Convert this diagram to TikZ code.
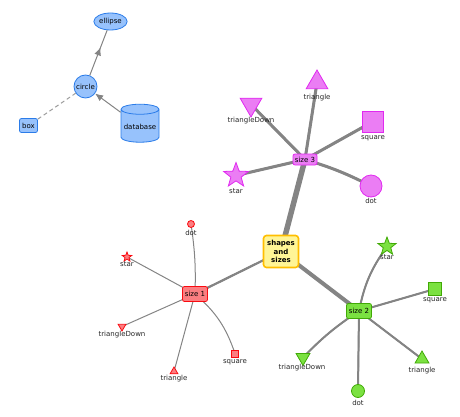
\documentclass[tikz,border=0pt]{standalone}
\usepackage{fontspec}
\setmainfont{DejaVu Sans}
\usetikzlibrary{shapes.geometric,shapes.misc,arrows.meta,decorations.markings,backgrounds}
\definecolor{edgegray}{RGB}{132,132,132}
\definecolor{bluefill}{RGB}{151,194,252}
\definecolor{blueline}{RGB}{43,124,233}
\definecolor{pinkfill}{RGB}{235,125,244}
\definecolor{pinkline}{RGB}{225,41,240}
\definecolor{redfill}{RGB}{251,126,129}
\definecolor{redline}{RGB}{250,10,16}
\definecolor{greenfill}{RGB}{123,225,65}
\definecolor{greenline}{RGB}{65,169,6}
\definecolor{yelfill}{RGB}{255,245,150}
\definecolor{yelline}{RGB}{255,190,0}
\begin{document}
\begin{tikzpicture}[x=1pt,y=-1pt,
  txt/.style={font=\fontsize{7}{8}\selectfont},
  lbl/.style={txt,inner sep=0.5pt,text=black!85},
  conn/.style={draw=edgegray,line width=#1},
  conn/.default=1pt,
  fatconn/.style={draw=edgegray,line width=#1,
    postaction={draw=edgegray,line width=0.7*#1},
    postaction={draw=edgegray,line width=0.4*#1},
    postaction={draw=edgegray,line width=0.15*#1}},
  bluenode/.style={draw=blueline,fill=bluefill,line width=0.8pt,txt,inner sep=0.5pt},
  pinknode/.style={draw=pinkline,fill=pinkfill,line width=0.8pt},
  rednode/.style={draw=redline,fill=redfill,line width=0.8pt},
  greennode/.style={draw=greenline,fill=greenfill,line width=0.8pt},
  sizebox/.style={rounded corners=2pt,txt,inner sep=0pt,minimum width=25pt,minimum height=13pt},
  tri/.style={regular polygon,regular polygon sides=3,inner sep=0pt,minimum size=#1},
  tridown/.style={regular polygon,regular polygon sides=3,shape border rotate=180,inner sep=0pt,minimum size=#1},
  starshape/.style={star,star points=5,star point ratio=2.4,inner sep=0pt,minimum size=#1},
  sq/.style={rectangle,inner sep=0pt,minimum size=#1},
  dotshape/.style={circle,inner sep=0pt,minimum size=#1},
  midarrow/.style={postaction={decorate},decoration={markings,mark=at position 0.62 with {\arrow{Latex[length=8pt,width=7pt]}}}}
]
\useasboundingbox (0,0) rectangle (460,417);

% ---- blue group ----
\node[bluenode,ellipse,minimum width=33pt,minimum height=17pt] (ellipse) at (110.5,21.5) {ellipse};
\node[bluenode,circle,minimum size=23pt,inner sep=0pt] (circle) at (85.5,86.5) {circle};
\node[bluenode,rectangle,rounded corners=2pt,minimum width=18pt,minimum height=14pt] (box) at (28.5,125.5) {box};
\node[bluenode,cylinder,shape border rotate=90,aspect=0.3,minimum height=38pt,minimum width=38pt] (database) at (140,126.5) {database};
\draw[conn=1pt,midarrow,fill=edgegray] (circle) -- (ellipse);
\draw[conn=1pt,-{Latex[length=8pt,width=7pt]}] (database) -- (circle);
\draw[conn=1pt,dashed,dash pattern=on 4pt off 3pt,draw=edgegray!80] (box) -- (circle);

% ---- center ----
\node[draw=yelline,fill=yelfill,line width=1.6pt,rounded corners=3pt,txt,font=\fontsize{7}{8.5}\selectfont\bfseries,align=center,minimum width=35pt,minimum height=32pt,inner sep=1pt] (center) at (281,251.5) {shapes\\and\\sizes};

% ---- size 3 ----
\node[pinknode,sizebox,minimum width=24pt,minimum height=11pt] (s3) at (305,159.5) {size 3};
\node[pinknode,tri=25pt] (s3tri) at (317,82.5) {};
\node[lbl] (s3trilbl) at (317,98) {triangle};
\node[pinknode,tridown=25pt] (s3tridown) at (251,104.5) {};
\node[lbl] (s3tridownlbl) at (251,121) {triangleDown};
\node[pinknode,sq=21pt] (s3sq) at (373,121.5) {};
\node[lbl] (s3sqlbl) at (373,138) {square};
\node[pinknode,starshape=26pt] (s3star) at (236,175.5) {};
\node[lbl] (s3starlbl) at (236,191) {star};
\node[pinknode,dotshape=22pt] (s3dot) at (371,186) {};
\node[lbl] (s3dotlbl) at (371,201) {dot};

% ---- size 1 ----
\node[rednode,sizebox,minimum width=25pt,minimum height=15pt] (s1) at (195,294) {size 1};
\node[rednode,dotshape=7pt] (s1dot) at (191,224) {};
\node[lbl] (s1dotlbl) at (191,232.5) {dot};
\node[rednode,starshape=10pt] (s1star) at (127,257) {};
\node[lbl] (s1starlbl) at (127,264.5) {star};
\node[rednode,tridown=9pt] (s1tridown) at (122,326.5) {};
\node[lbl] (s1tridownlbl) at (122,335) {triangleDown};
\node[rednode,tri=9pt] (s1tri) at (174,371.5) {};
\node[lbl] (s1trilbl) at (174,378.5) {triangle};
\node[rednode,sq=7pt] (s1sq) at (235,353.5) {};
\node[lbl] (s1sqlbl) at (235,362) {square};

% ---- size 2 ----
\node[greennode,sizebox,minimum width=25pt,minimum height=15pt] (s2) at (359,311) {size 2};
\node[greennode,starshape=19pt] (s2star) at (387,246.5) {};
\node[lbl] (s2starlbl) at (387,257.5) {star};
\node[greennode,sq=13pt] (s2sq) at (435,289) {};
\node[lbl] (s2sqlbl) at (435,300) {square};
\node[greennode,tridown=16pt] (s2tridown) at (303,357.5) {};
\node[lbl] (s2tridownlbl) at (302,367.5) {triangleDown};
\node[greennode,dotshape=13pt] (s2dot) at (358,391) {};
\node[lbl] (s2dotlbl) at (358,403) {dot};
\node[greennode,tri=16pt] (s2tri) at (422,359) {};
\node[lbl] (s2trilbl) at (422,371) {triangle};

% ---- edges (behind nodes) ----
\begin{scope}[on background layer]
\draw[fatconn=5.5pt] (center.center) -- (s3.center);
\draw[fatconn=4pt] (center.center) -- (s2.center);
\draw[fatconn=2.2pt] (center.center) -- (s1.center);

\draw[fatconn=3pt] (s3.center) -- (s3tri.center);
\draw[fatconn=3pt] (s3.center) -- (s3tridown.center);
\draw[fatconn=3pt] (s3.center) -- (s3sq.center);
\draw[fatconn=3pt] (s3.center) -- (s3star.center);
\draw[fatconn=3pt] (s3.center) to[bend left=5] (s3dot.center);

\draw[conn=1pt] (s1.center) to[bend right=5] (s1dot.center);
\draw[conn=1pt] (s1.center) -- (s1star.center);
\draw[conn=1pt] (s1.center) -- (s1tridown.center);
\draw[conn=1pt] (s1.center) -- (s1tri.center);
\draw[conn=1pt] (s1.center) to[bend left=15] (s1sq.center);

\draw[fatconn=2pt] (s2.center) to[bend left=12] (s2star.center);
\draw[fatconn=2pt] (s2.center) -- (s2sq.center);
\draw[fatconn=2pt] (s2.center) to[bend right=6] (s2tridown.center);
\draw[fatconn=2pt] (s2.center) -- (s2dot.center);
\draw[fatconn=2pt] (s2.center) -- (s2tri.center);
\end{scope}
\end{tikzpicture}
\end{document}
